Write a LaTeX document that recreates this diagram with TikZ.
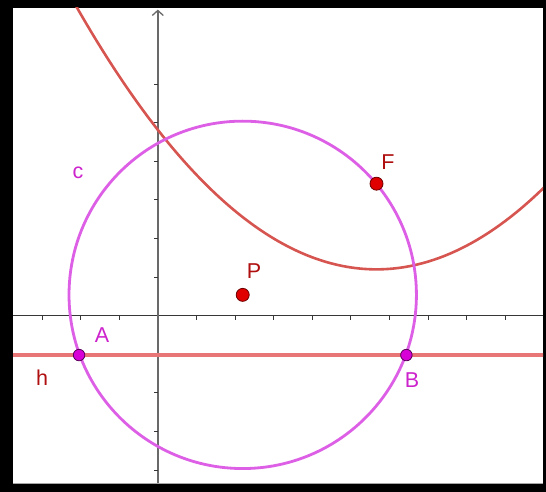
\documentclass[tikz,border=0pt]{standalone}
\usepackage{fontspec}
\setmainfont{Liberation Sans}
\usetikzlibrary{arrows.meta}
\definecolor{circ}{RGB}{220,95,230}
\definecolor{para}{RGB}{215,85,80}
\definecolor{hline}{RGB}{232,118,118}
\definecolor{ptred}{RGB}{225,0,0}
\definecolor{ptredd}{RGB}{110,0,0}
\definecolor{ptmag}{RGB}{215,0,215}
\definecolor{ptmagd}{RGB}{90,0,90}
\definecolor{lblred}{RGB}{175,15,15}
\definecolor{lblmag}{RGB}{205,35,205}
\definecolor{axisgray}{RGB}{105,105,105}
\definecolor{axisdark}{RGB}{55,55,55}
\tikzset{
  redpt/.style={circle, fill=ptred, draw=ptredd, line width=0.8pt, inner sep=0pt, minimum size=13pt},
  magpt/.style={circle, fill=ptmag, draw=ptmagd, line width=0.8pt, inner sep=0pt, minimum size=11.5pt},
  redlbl/.style={text=lblred, font=\fontsize{21.5}{24}\selectfont, inner sep=0pt},
  maglbl/.style={text=lblmag, font=\fontsize{21.5}{24}\selectfont, inner sep=0pt},
  tickmark/.style={axisdark, line width=0.9pt}
}
\begin{document}
\begin{tikzpicture}[x=1pt,y=1pt]
\useasboundingbox (0,0) rectangle (546,492);
\fill[black] (0,0) rectangle (546,492);
\fill[white] (13,8) rectangle (543,484);
\draw[gray!70, line width=1pt] (13,8.5) -- (543,8.5);
\begin{scope}
\clip (13,9) rectangle (543,484);
\begin{scope}[shift={(157.8pt,176.3pt)}, x=38.6pt, y=38.6pt]
  % axes
  \draw[axisdark, line width=1pt] (-3.8,0) -- (10.1,0);
  \foreach \k in {-3,-2,-1,1,2,3,4,5,6,7,8,9}
    \draw[tickmark] (\k,0) -- (\k,-0.1);
  \draw[axisgray, line width=1.8pt, -{Straight Barb[length=5pt,width=11pt,line width=1.3pt]}] (0,-4.4) -- (0,7.93);
  \foreach \k in {-4,-3,-2,-1,1,2,3,4,5,6}
    \draw[tickmark] (0,\k) -- (-0.1,\k);
  % line h
  \draw[hline, line width=3.2pt] (-3.8,-1.02) -- (10.1,-1.02);
  % parabola
  \draw[para, line width=2.6pt, domain=-3.8:10.1, samples=120, smooth]
    plot (\x, {((\x-5.666)^2+10.66)/8.88});
  % circle c
  \coordinate (Pc) at (2.2,0.54);
  \draw[circ, line width=2.8pt] (Pc) circle[radius=4.5];
  % points
  \node[redpt] (P) at (2.2,0.54) {};
  \node[redpt] (F) at (5.666,3.42) {};
  \node[magpt] (A) at (-2.04,-1.02) {};
  \node[magpt] (B) at (6.44,-1.02) {};
\end{scope}
\end{scope}
% labels
\node[redlbl] (lF) at (388,330) {F};
\node[redlbl] (lP) at (254,221) {P};
\node[redlbl] (lh) at (42,114) {h};
\node[maglbl] (lA) at (102,157) {A};
\node[maglbl] (lB) at (412,112) {B};
\node[maglbl] (lc) at (78,319) {c};
\end{tikzpicture}
\end{document}
